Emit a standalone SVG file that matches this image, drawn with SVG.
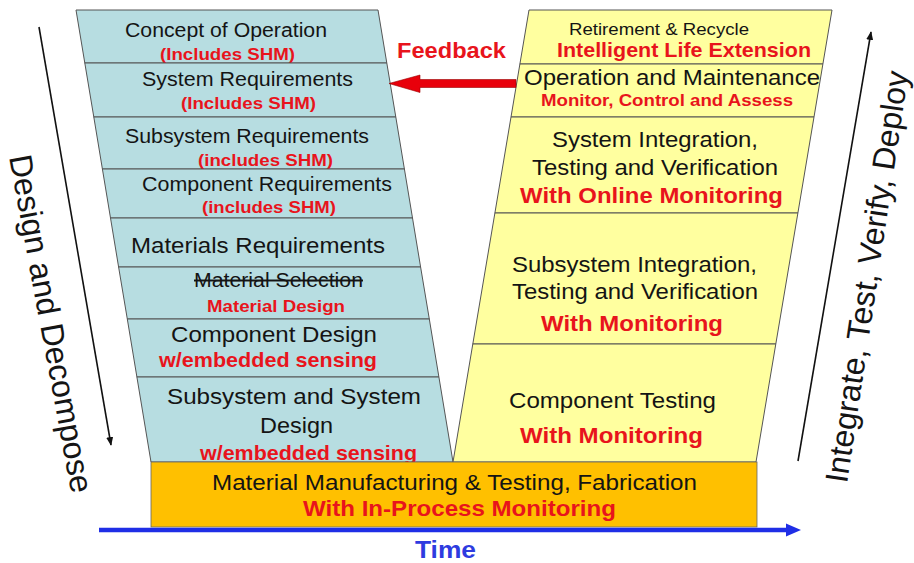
<svg xmlns="http://www.w3.org/2000/svg" width="914" height="563" viewBox="0 0 914 563">
  <style>
    text { font-family: "Liberation Sans", Arial, sans-serif; text-anchor: middle; }
    .t { fill: #141414; }
    .r { fill: #e8141c; font-weight: bold; }
    .s19 { font-size: 19.6px; }
    .s22 { font-size: 22px; }
    .s17 { font-size: 17px; }
    .left { fill: #b7dde1; stroke: #555; stroke-width: 1; }
    .right { fill: #ffff9f; stroke: #555; stroke-width: 1; }
    .side { font-size: 32px; fill: #141414; text-anchor: start; }
  </style>
  <defs>
    <marker id="headBlack" viewBox="0 0 10 8" refX="9" refY="4" markerWidth="9" markerHeight="7" markerUnits="userSpaceOnUse" orient="auto">
      <path d="M0,0 L10,4 L0,8 Z" fill="#111"/>
    </marker>
  </defs>

  <!-- Design (left) leg -->
  <g id="concept-of-operation">
    <polygon class="left" points="76,10 378,10 386.8,63 84.8,63"/>
    <text class="t s19" x="226" y="37" textLength="202" lengthAdjust="spacingAndGlyphs">Concept of Operation</text>
    <text class="r s17" x="227.5" y="60" textLength="135" lengthAdjust="spacingAndGlyphs">(Includes SHM)</text>
  </g>
  <g id="system-requirements">
    <polygon class="left" points="84.8,63 386.8,63 395.8,117 93.8,117"/>
    <text class="t s19" x="247.5" y="86" textLength="211" lengthAdjust="spacingAndGlyphs">System Requirements</text>
    <text class="r s17" x="248.5" y="109" textLength="135" lengthAdjust="spacingAndGlyphs">(Includes SHM)</text>
  </g>
  <g id="subsystem-requirements">
    <polygon class="left" points="93.8,117 395.8,117 404.4,169 102.4,169"/>
    <text class="t s19" x="247" y="142.5" textLength="244" lengthAdjust="spacingAndGlyphs">Subsystem Requirements</text>
    <text class="r s17" x="265.5" y="165.5" textLength="135" lengthAdjust="spacingAndGlyphs">(includes SHM)</text>
  </g>
  <g id="component-requirements">
    <polygon class="left" points="102.4,169 404.4,169 412.5,218 110.5,218"/>
    <text class="t s19" x="267" y="190.5" textLength="250" lengthAdjust="spacingAndGlyphs">Component Requirements</text>
    <text class="r s17" x="269" y="213" textLength="134" lengthAdjust="spacingAndGlyphs">(includes SHM)</text>
  </g>
  <g id="materials-requirements">
    <polygon class="left" points="110.5,218 412.5,218 420.6,267 118.6,267"/>
    <text class="t s22" x="258" y="253" textLength="254" lengthAdjust="spacingAndGlyphs">Materials Requirements</text>
  </g>
  <g id="material-design">
    <polygon class="left" points="118.6,267 420.6,267 429.3,319 127.3,319"/>
    <text class="t" x="278.5" y="286.5" font-size="19.5" text-decoration="line-through" textLength="169" lengthAdjust="spacingAndGlyphs">Material Selection</text>
    <text class="r s17" x="276" y="311.5" textLength="138" lengthAdjust="spacingAndGlyphs">Material Design</text>
  </g>
  <g id="component-design">
    <polygon class="left" points="127.3,319 429.3,319 438.9,377 136.9,377"/>
    <text class="t s22" x="274" y="341.5" textLength="206" lengthAdjust="spacingAndGlyphs">Component Design</text>
    <text class="r" x="268" y="367" font-size="19.8" textLength="218" lengthAdjust="spacingAndGlyphs">w/embedded sensing</text>
  </g>
  <g id="subsystem-system-design">
    <polygon class="left" points="136.9,377 438.9,377 453,462 151,462"/>
    <text class="t s22" x="294" y="404" textLength="254" lengthAdjust="spacingAndGlyphs">Subsystem and System</text>
    <text class="t s22" x="296.5" y="433" textLength="73" lengthAdjust="spacingAndGlyphs">Design</text>
    <text class="r" x="308.5" y="460" font-size="19.8" textLength="217" lengthAdjust="spacingAndGlyphs">w/embedded sensing</text>
  </g>

  <!-- Integration (right) leg -->
  <g id="retirement-recycle">
    <polygon class="right" points="529,10 832,10 822.9,64 519.9,64"/>
    <text class="t" x="659" y="35" font-size="17" textLength="180" lengthAdjust="spacingAndGlyphs">Retirement &amp; Recycle</text>
    <text class="r" x="684" y="57" font-size="19.7" textLength="254" lengthAdjust="spacingAndGlyphs">Intelligent Life Extension</text>
  </g>
  <g id="operation-maintenance">
    <polygon class="right" points="519.9,64 822.9,64 814,117 511,117"/>
    <text class="t s22" x="672" y="85" textLength="296" lengthAdjust="spacingAndGlyphs">Operation and Maintenance</text>
    <text class="r s17" x="667" y="106" textLength="252" lengthAdjust="spacingAndGlyphs">Monitor, Control and Assess</text>
  </g>
  <g id="system-integration">
    <polygon class="right" points="511,117 814,117 797.9,213 494.9,213"/>
    <text class="t s22" x="655" y="146.5" textLength="206" lengthAdjust="spacingAndGlyphs">System Integration,</text>
    <text class="t s22" x="655" y="175" textLength="246" lengthAdjust="spacingAndGlyphs">Testing and Verification</text>
    <text class="r s22" x="651.5" y="203" textLength="263" lengthAdjust="spacingAndGlyphs">With Online Monitoring</text>
  </g>
  <g id="subsystem-integration">
    <polygon class="right" points="494.9,213 797.9,213 775.8,344 472.8,344"/>
    <text class="t s22" x="634.5" y="271.5" textLength="245" lengthAdjust="spacingAndGlyphs">Subsystem Integration,</text>
    <text class="t s22" x="635" y="299" textLength="246" lengthAdjust="spacingAndGlyphs">Testing and Verification</text>
    <text class="r s22" x="632" y="331" textLength="182" lengthAdjust="spacingAndGlyphs">With Monitoring</text>
  </g>
  <g id="component-testing">
    <polygon class="right" points="472.8,344 775.8,344 756,462 453,462"/>
    <text class="t s22" x="612.5" y="408" textLength="207" lengthAdjust="spacingAndGlyphs">Component Testing</text>
    <text class="r s22" x="611.5" y="443" textLength="183" lengthAdjust="spacingAndGlyphs">With Monitoring</text>
  </g>

  <!-- Base of the V -->
  <g id="manufacturing">
    <rect x="151" y="462" width="606" height="65" fill="#ffc000" stroke="#666" stroke-width="0.8"/>
    <text class="t s22" x="454.5" y="490" textLength="485" lengthAdjust="spacingAndGlyphs">Material Manufacturing &amp; Testing, Fabrication</text>
    <text class="r s22" x="459.5" y="516" textLength="313" lengthAdjust="spacingAndGlyphs">With In-Process Monitoring</text>
  </g>

  <!-- Side labels -->
  <g id="design-decompose-label">
    <text class="side" transform="translate(9,157) rotate(79.5)" textLength="343" lengthAdjust="spacingAndGlyphs">Design and Decompose</text>
  </g>
  <g id="integrate-label">
    <text class="side" font-size="31.5" transform="translate(847,484) rotate(-81.5)" textLength="416" lengthAdjust="spacingAndGlyphs">Integrate, Test, Verify, Deploy</text>
  </g>
  <g id="feedback-label">
    <text class="r" x="451.5" y="58" font-size="21.7" textLength="109" lengthAdjust="spacingAndGlyphs">Feedback</text>
  </g>
  <g id="time-label">
    <text x="445.5" y="558" font-size="24" font-weight="bold" fill="#2e3be0" textLength="61" lengthAdjust="spacingAndGlyphs">Time</text>
  </g>

  <!-- Connectors -->
  <g id="connectors">
    <polygon points="516,79.5 420,79.5 420,75 389,83.5 420,92.5 420,87.5 516,87.5" fill="#e8000b" stroke="#9a0000" stroke-width="0.6"/>
    <line x1="39" y1="27" x2="111" y2="445" stroke="#111" stroke-width="1.6" marker-end="url(#headBlack)"/>
    <line x1="798" y1="461" x2="871" y2="32" stroke="#111" stroke-width="1.6" marker-end="url(#headBlack)"/>
    <line x1="99" y1="530" x2="788" y2="530" stroke="#1f2ee6" stroke-width="4.5"/>
    <polygon points="786,523.5 801,530 786,536.5" fill="#1f2ee6"/>
  </g>
</svg>
